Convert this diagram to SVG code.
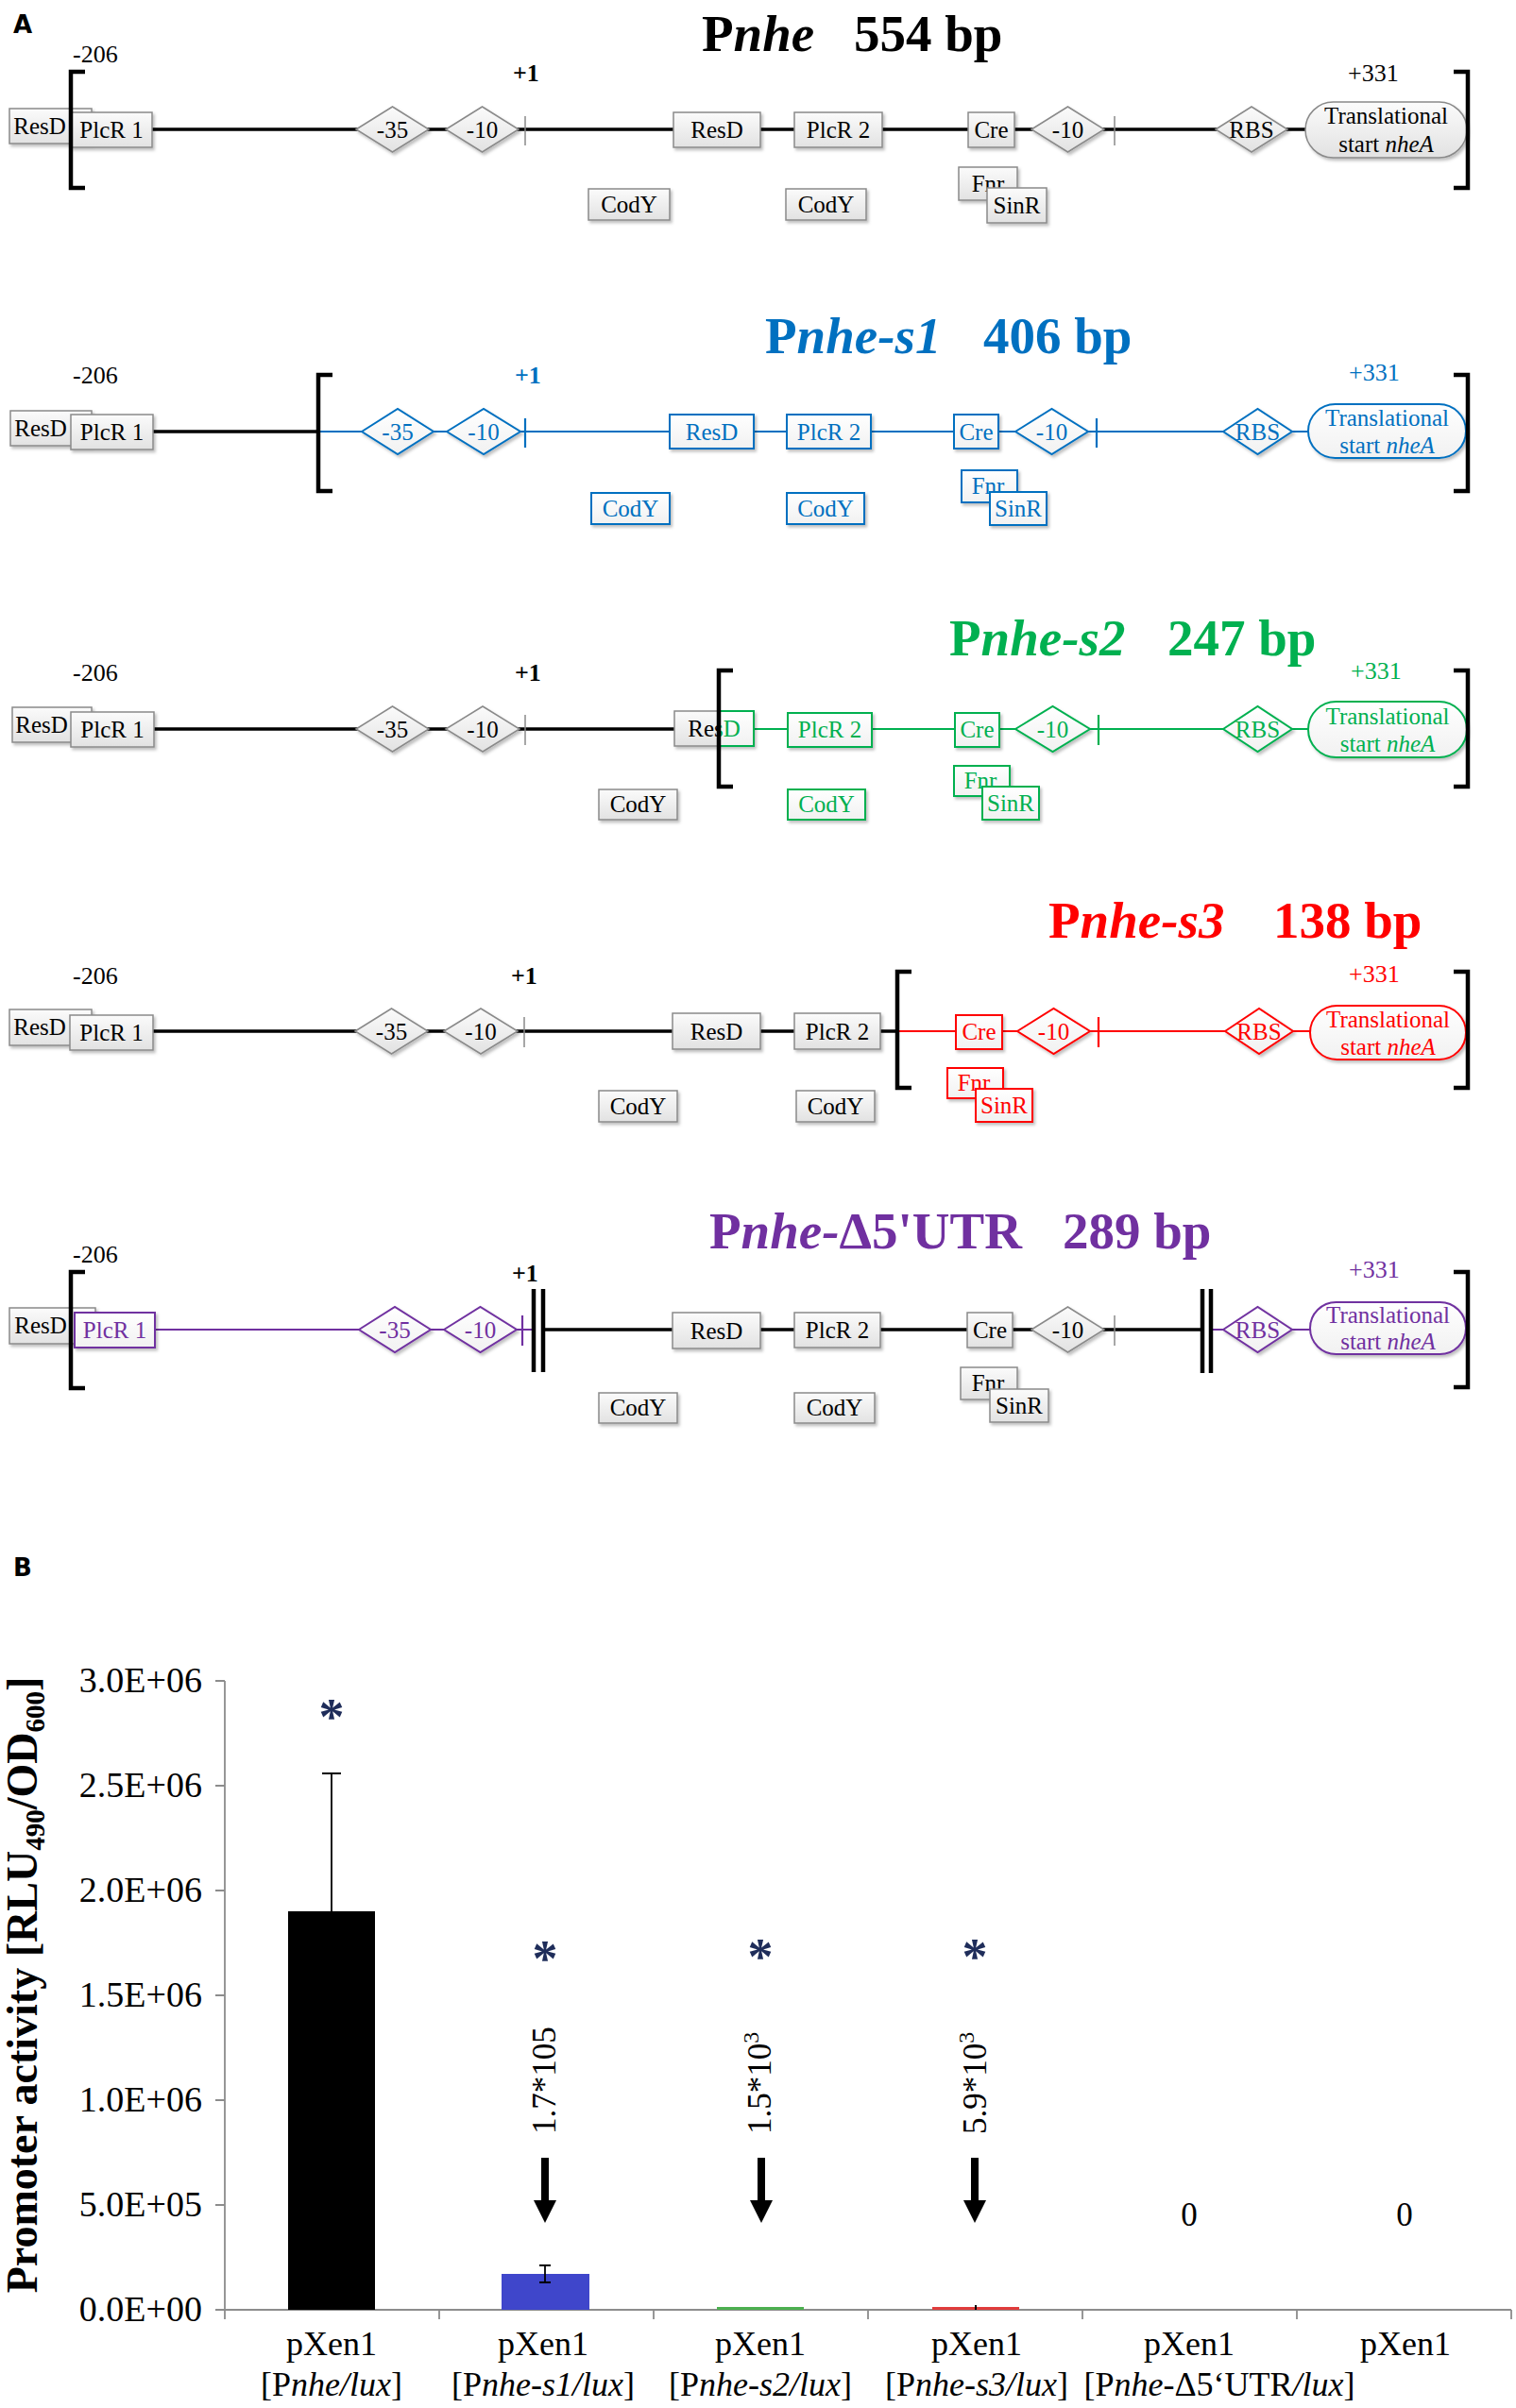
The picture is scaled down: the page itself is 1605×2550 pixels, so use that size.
<svg xmlns="http://www.w3.org/2000/svg" width="1605" height="2550" viewBox="0 0 1605 2550">
<defs>
<linearGradient id="gg" x1="0" y1="0" x2="0" y2="1"><stop offset="0" stop-color="#FBFBFB"/><stop offset="1" stop-color="#E2E2E2"/></linearGradient>
<linearGradient id="wg" x1="0" y1="0" x2="0" y2="1"><stop offset="0" stop-color="#FFFFFF"/><stop offset="1" stop-color="#F1F1F1"/></linearGradient>
<filter id="sh" x="-10%" y="-10%" width="130%" height="150%"><feDropShadow dx="2" dy="2.5" stdDeviation="1.5" flood-color="#000" flood-opacity="0.25"/></filter>
<clipPath id="clipG"><rect x="761" y="740" width="60" height="60"/></clipPath>
</defs>
<style>
.tx{font-family:"Liberation Serif","Times New Roman",serif;font-size:25px;text-anchor:middle;fill:#000}
.pos{font-family:"Liberation Serif","Times New Roman",serif;font-size:26px;fill:#000}
.bold{font-weight:bold}
.ttl{font-family:"Liberation Serif","Times New Roman",serif;font-size:55px;font-weight:bold}
.it{font-style:italic}
.gb{fill:url(#gg);stroke:#8A8A8A;stroke-width:1.5;filter:url(#sh)}
.cb{fill:url(#wg);stroke-width:2;filter:url(#sh)}
.tk{stroke:#8A8A8A;stroke-width:1.5}
.brk{fill:none;stroke:#000;stroke-width:4.5}
.dbar{stroke:#000;stroke-width:4.5}
.lk{stroke:#000;stroke-width:3.5}
.lc{stroke-width:2.2}
.sB{stroke:#0070C0}.fB{fill:#0070C0}
.sG{stroke:#00B050}.fG{fill:#00B050}
.sR{stroke:#FF0000}.fR{fill:#FF0000}
.sP{stroke:#7030A0}.fP{fill:#7030A0}
.lbl{font-family:"DejaVu Sans","Liberation Sans",sans-serif;font-size:26px;font-weight:bold;fill:#000}
.ax{stroke:#8C8C8C;stroke-width:1.8;fill:none}
.yl{font-family:"Liberation Serif","Times New Roman",serif;font-size:38px;text-anchor:end;fill:#000}
.xl{font-family:"Liberation Serif","Times New Roman",serif;font-size:36px;text-anchor:middle;fill:#000}
.ast{font-family:"Liberation Serif","Times New Roman",serif;font-size:54px;font-weight:bold;text-anchor:middle;fill:#1F2D5A}
.val{font-family:"Liberation Serif","Times New Roman",serif;font-size:35px;fill:#000}
</style>
<rect width="1605" height="2550" fill="#FFFFFF"/>

<text class="lbl" x="14" y="35">A</text>

<g id="connectors">
<line class="lk" x1="161" y1="137" x2="1382" y2="137"/>
<line class="lk" x1="162" y1="457" x2="337" y2="457"/>
<line class="lc sB" x1="337" y1="457" x2="1385" y2="457"/>
<line class="lk" x1="163" y1="772" x2="761" y2="772"/>
<line class="lc sG" x1="761" y1="772" x2="1385" y2="772"/>
<line class="lk" x1="162" y1="1092" x2="950" y2="1092"/>
<line class="lc sR" x1="950" y1="1092" x2="1387" y2="1092"/>
<line class="lc sP" x1="164" y1="1408" x2="565" y2="1408"/>
<line class="lk" x1="575" y1="1408" x2="1273" y2="1408"/>
<line class="lc sP" x1="1282" y1="1408" x2="1387" y2="1408"/>
</g>

<!-- Row 1 -->
<g id="row1">
<text class="ttl" x="743" y="54">P<tspan class="it">nhe</tspan></text>
<text class="ttl" x="904" y="54">554 bp</text>
<text class="pos" x="77" y="66">-206</text>
<text class="pos bold" x="543" y="86">+1</text>
<text class="pos" x="1427" y="86">+331</text>
<g id="r1-resd1"><rect class="gb" x="10" y="115" width="87" height="37"/><text class="tx" x="42" y="142">ResD</text></g>
<g id="r1-plcr1"><rect class="gb" x="75" y="119" width="86" height="37"/><text class="tx" x="118" y="146">PlcR 1</text></g>
<g id="r1-m35"><polygon class="gb" points="377,137 415.5,113 454,137 415.5,161"/><text class="tx" x="415.5" y="146">-35</text></g>
<g id="r1-m10a"><polygon class="gb" points="472,137 510.5,113 549,137 510.5,161"/><text class="tx" x="510.5" y="146">-10</text></g>
<line class="tk" x1="556" y1="123" x2="556" y2="154"/>
<g id="r1-resd2"><rect class="gb" x="713" y="119" width="92" height="37"/><text class="tx" x="759" y="146">ResD</text></g>
<g id="r1-plcr2"><rect class="gb" x="841" y="119" width="93" height="37"/><text class="tx" x="887.5" y="146">PlcR 2</text></g>
<g id="r1-cre"><rect class="gb" x="1025" y="119" width="49" height="37"/><text class="tx" x="1049.5" y="146">Cre</text></g>
<g id="r1-m10b"><polygon class="gb" points="1092,137 1130.5,113 1169,137 1130.5,161"/><text class="tx" x="1130.5" y="146">-10</text></g>
<line class="tk" x1="1180" y1="123" x2="1180" y2="154"/>
<g id="r1-rbs"><polygon class="gb" points="1287,137 1325,113 1363,137 1325,161"/><text class="tx" x="1325" y="146">RBS</text></g>
<g id="r1-tl"><rect class="gb" x="1382" y="108" width="171" height="59" rx="29.5"/><text class="tx" x="1467.5" y="131">Translational</text><text class="tx" x="1467.5" y="161">start <tspan class="it">nheA</tspan></text></g>
<g id="r1-cody1"><rect class="gb" x="623" y="200" width="86" height="33"/><text class="tx" x="666" y="225">CodY</text></g>
<g id="r1-cody2"><rect class="gb" x="832" y="200" width="85" height="33"/><text class="tx" x="874.5" y="225">CodY</text></g>
<g id="r1-fnr"><rect class="gb" x="1015" y="177" width="62" height="35"/><text class="tx" x="1046" y="203">Fnr</text></g>
<g id="r1-sinr"><rect class="gb" x="1045" y="199" width="63" height="37"/><text class="tx" x="1076.5" y="226">SinR</text></g>
<path class="brk" d="M90,76 H75 V199 H90"/>
<path class="brk" d="M1539,76 H1554 V199 H1539"/>
</g>

<!-- Row 2 -->
<g id="row2">
<text class="ttl fB" x="810" y="374">P<tspan class="it">nhe-s1</tspan></text>
<text class="ttl fB" x="1041" y="374">406 bp</text>
<text class="pos" x="77" y="406">-206</text>
<text class="pos bold fB" x="545" y="406">+1</text>
<text class="pos fB" x="1428" y="403">+331</text>
<g id="r2-resd1"><rect class="gb" x="11" y="435" width="86" height="37"/><text class="tx" x="43" y="462">ResD</text></g>
<g id="r2-plcr1"><rect class="gb" x="75" y="439" width="87" height="37"/><text class="tx" x="118.5" y="466">PlcR 1</text></g>
<g id="r2-m35"><polygon class="cb sB" points="383,457 421,433 459,457 421,481"/><text class="tx fB" x="421" y="466">-35</text></g>
<g id="r2-m10a"><polygon class="cb sB" points="473,457 512,433 551,457 512,481"/><text class="tx fB" x="512" y="466">-10</text></g>
<line class="lc sB" x1="556" y1="443" x2="556" y2="474"/>
<g id="r2-resd2"><rect class="cb sB" x="709" y="439" width="89" height="36"/><text class="tx fB" x="753.5" y="466">ResD</text></g>
<g id="r2-plcr2"><rect class="cb sB" x="833" y="439" width="89" height="36"/><text class="tx fB" x="877.5" y="466">PlcR 2</text></g>
<g id="r2-cre"><rect class="cb sB" x="1010" y="439" width="47" height="36"/><text class="tx fB" x="1033.5" y="466">Cre</text></g>
<g id="r2-m10b"><polygon class="cb sB" points="1075,457 1113.5,433 1152,457 1113.5,481"/><text class="tx fB" x="1113.5" y="466">-10</text></g>
<line class="lc sB" x1="1161" y1="443" x2="1161" y2="474"/>
<g id="r2-rbs"><polygon class="cb sB" points="1295,457 1331.5,433 1368,457 1331.5,481"/><text class="tx fB" x="1331.5" y="466">RBS</text></g>
<g id="r2-tl"><rect class="cb sB" x="1385" y="428" width="167" height="57" rx="28.5"/><text class="tx fB" x="1468.5" y="451">Translational</text><text class="tx fB" x="1468.5" y="480">start <tspan class="it">nheA</tspan></text></g>
<g id="r2-cody1"><rect class="cb sB" x="626" y="522" width="83" height="33"/><text class="tx fB" x="667.5" y="547">CodY</text></g>
<g id="r2-cody2"><rect class="cb sB" x="833" y="522" width="82" height="33"/><text class="tx fB" x="874" y="547">CodY</text></g>
<g id="r2-fnr"><rect class="cb sB" x="1018" y="498" width="59" height="34"/><text class="tx fB" x="1046" y="523">Fnr</text></g>
<g id="r2-sinr"><rect class="cb sB" x="1048" y="521" width="60" height="35"/><text class="tx fB" x="1078" y="547">SinR</text></g>
<path class="brk" d="M352,397 H337 V520 H352"/>
<path class="brk" d="M1539,397 H1554 V520 H1539"/>
</g>

<!-- Row 3 -->
<g id="row3">
<text class="ttl fG" x="1005" y="694">P<tspan class="it">nhe-s2</tspan></text>
<text class="ttl fG" x="1236" y="694">247 bp</text>
<text class="pos" x="77" y="721">-206</text>
<text class="pos bold" x="545" y="721">+1</text>
<text class="pos fG" x="1430" y="719">+331</text>
<g id="r3-resd1"><rect class="gb" x="13" y="749" width="84" height="37"/><text class="tx" x="44" y="776">ResD</text></g>
<g id="r3-plcr1"><rect class="gb" x="75" y="754" width="88" height="37"/><text class="tx" x="119" y="781">PlcR 1</text></g>
<g id="r3-m35"><polygon class="gb" points="377,772 415.5,748 454,772 415.5,796"/><text class="tx" x="415.5" y="781">-35</text></g>
<g id="r3-m10a"><polygon class="gb" points="472,772 511,748 550,772 511,796"/><text class="tx" x="511" y="781">-10</text></g>
<line class="tk" x1="556" y1="757" x2="556" y2="789"/>
<g id="r3-resd2"><rect class="gb" x="714" y="753" width="84" height="37"/><text class="tx" x="756" y="780">ResD</text>
<rect class="cb sG" x="761" y="753" width="37" height="37" style="filter:none"/><text class="tx fG" x="756" y="780" clip-path="url(#clipG)">ResD</text></g>
<g id="r3-plcr2"><rect class="cb sG" x="834" y="755" width="89" height="36"/><text class="tx fG" x="878.5" y="781">PlcR 2</text></g>
<g id="r3-cre"><rect class="cb sG" x="1011" y="755" width="47" height="36"/><text class="tx fG" x="1034.5" y="781">Cre</text></g>
<g id="r3-m10b"><polygon class="cb sG" points="1075,772 1114.5,748 1154,772 1114.5,796"/><text class="tx fG" x="1114.5" y="781">-10</text></g>
<line class="lc sG" x1="1163" y1="757" x2="1163" y2="789"/>
<g id="r3-rbs"><polygon class="cb sG" points="1295,772 1331.5,748 1368,772 1331.5,796"/><text class="tx fG" x="1331.5" y="781">RBS</text></g>
<g id="r3-tl"><rect class="cb sG" x="1385" y="743" width="168" height="59" rx="29.5"/><text class="tx fG" x="1469" y="767">Translational</text><text class="tx fG" x="1469" y="796">start <tspan class="it">nheA</tspan></text></g>
<g id="r3-cody1"><rect class="gb" x="634" y="836" width="83" height="32"/><text class="tx" x="675.5" y="860">CodY</text></g>
<g id="r3-cody2"><rect class="cb sG" x="834" y="836" width="82" height="32"/><text class="tx fG" x="875" y="860">CodY</text></g>
<g id="r3-fnr"><rect class="cb sG" x="1010" y="811" width="59" height="32"/><text class="tx fG" x="1038" y="835">Fnr</text></g>
<g id="r3-sinr"><rect class="cb sG" x="1040" y="833" width="60" height="35"/><text class="tx fG" x="1070" y="859">SinR</text></g>
<path class="brk" d="M776,710 H761 V833 H776"/>
<path class="brk" d="M1539,710 H1554 V833 H1539"/>
</g>

<!-- Row 4 -->
<g id="row4">
<text class="ttl fR" x="1110" y="993">P<tspan class="it">nhe-s3</tspan></text>
<text class="ttl fR" x="1348" y="993">138 bp</text>
<text class="pos" x="77" y="1042">-206</text>
<text class="pos bold" x="541" y="1042">+1</text>
<text class="pos fR" x="1428" y="1040">+331</text>
<g id="r4-resd1"><rect class="gb" x="10" y="1069" width="87" height="38"/><text class="tx" x="42" y="1096">ResD</text></g>
<g id="r4-plcr1"><rect class="gb" x="74" y="1075" width="88" height="37"/><text class="tx" x="118" y="1102">PlcR 1</text></g>
<g id="r4-m35"><polygon class="gb" points="376,1092 414.5,1068 453,1092 414.5,1116"/><text class="tx" x="414.5" y="1101">-35</text></g>
<g id="r4-m10a"><polygon class="gb" points="470,1092 509,1068 548,1092 509,1116"/><text class="tx" x="509" y="1101">-10</text></g>
<line class="tk" x1="555" y1="1077" x2="555" y2="1109"/>
<g id="r4-resd2"><rect class="gb" x="712" y="1073" width="93" height="38"/><text class="tx" x="758.5" y="1101">ResD</text></g>
<g id="r4-plcr2"><rect class="gb" x="841" y="1073" width="91" height="38"/><text class="tx" x="886.5" y="1101">PlcR 2</text></g>
<g id="r4-cre"><rect class="cb sR" x="1012" y="1075" width="49" height="36"/><text class="tx fR" x="1036.5" y="1101">Cre</text></g>
<g id="r4-m10b"><polygon class="cb sR" points="1077,1092 1115.5,1068 1154,1092 1115.5,1116"/><text class="tx fR" x="1115.5" y="1101">-10</text></g>
<line class="lc sR" x1="1163" y1="1077" x2="1163" y2="1109"/>
<g id="r4-rbs"><polygon class="cb sR" points="1297,1092 1333,1068 1369,1092 1333,1116"/><text class="tx fR" x="1333" y="1101">RBS</text></g>
<g id="r4-tl"><rect class="cb sR" x="1387" y="1065" width="165" height="57" rx="28.5"/><text class="tx fR" x="1469.5" y="1088">Translational</text><text class="tx fR" x="1469.5" y="1117">start <tspan class="it">nheA</tspan></text></g>
<g id="r4-cody1"><rect class="gb" x="634" y="1155" width="83" height="33"/><text class="tx" x="675.5" y="1180">CodY</text></g>
<g id="r4-cody2"><rect class="gb" x="843" y="1155" width="83" height="33"/><text class="tx" x="884.5" y="1180">CodY</text></g>
<g id="r4-fnr"><rect class="cb sR" x="1003" y="1131" width="59" height="32"/><text class="tx fR" x="1031" y="1155">Fnr</text></g>
<g id="r4-sinr"><rect class="cb sR" x="1033" y="1153" width="60" height="35"/><text class="tx fR" x="1063" y="1179">SinR</text></g>
<path class="brk" d="M965,1029 H950 V1152 H965"/>
<path class="brk" d="M1539,1029 H1554 V1152 H1539"/>
</g>

<!-- Row 5 -->
<g id="row5">
<text class="ttl fP" x="751" y="1322">P<tspan class="it">nhe-</tspan>Δ5'UTR</text>
<text class="ttl fP" x="1125" y="1322">289 bp</text>
<text class="pos" x="77" y="1337">-206</text>
<text class="pos bold" x="542" y="1357">+1</text>
<text class="pos fP" x="1428" y="1353">+331</text>
<g id="r5-resd1"><rect class="gb" x="10" y="1385" width="91" height="38"/><text class="tx" x="43" y="1412">ResD</text></g>
<g id="r5-plcr1"><rect class="cb sP" x="79" y="1390" width="85" height="37"/><text class="tx fP" x="121.5" y="1417">PlcR 1</text></g>
<g id="r5-m35"><polygon class="cb sP" points="380,1408 418,1384 456,1408 418,1432"/><text class="tx fP" x="418" y="1417">-35</text></g>
<g id="r5-m10a"><polygon class="cb sP" points="470,1408 508.5,1384 547,1408 508.5,1432"/><text class="tx fP" x="508.5" y="1417">-10</text></g>
<line class="lc sP" x1="553" y1="1393" x2="553" y2="1425"/>
<line class="dbar" x1="565" y1="1365" x2="565" y2="1453"/>
<line class="dbar" x1="575" y1="1365" x2="575" y2="1453"/>
<g id="r5-resd2"><rect class="gb" x="712" y="1390" width="93" height="38"/><text class="tx" x="758.5" y="1418">ResD</text></g>
<g id="r5-plcr2"><rect class="gb" x="841" y="1390" width="91" height="37"/><text class="tx" x="886.5" y="1417">PlcR 2</text></g>
<g id="r5-cre"><rect class="gb" x="1024" y="1390" width="48" height="37"/><text class="tx" x="1048" y="1417">Cre</text></g>
<g id="r5-m10b"><polygon class="gb" points="1092,1408 1130.5,1384 1169,1408 1130.5,1432"/><text class="tx" x="1130.5" y="1417">-10</text></g>
<line class="tk" x1="1180" y1="1393" x2="1180" y2="1425"/>
<line class="dbar" x1="1273" y1="1365" x2="1273" y2="1454"/>
<line class="dbar" x1="1282" y1="1365" x2="1282" y2="1454"/>
<g id="r5-rbs"><polygon class="cb sP" points="1295,1408 1331.5,1384 1368,1408 1331.5,1432"/><text class="tx fP" x="1331.5" y="1417">RBS</text></g>
<g id="r5-tl"><rect class="cb sP" x="1387" y="1379" width="165" height="55" rx="27.5"/><text class="tx fP" x="1469.5" y="1401">Translational</text><text class="tx fP" x="1469.5" y="1429">start <tspan class="it">nheA</tspan></text></g>
<g id="r5-cody1"><rect class="gb" x="634" y="1475" width="83" height="32"/><text class="tx" x="675.5" y="1499">CodY</text></g>
<g id="r5-cody2"><rect class="gb" x="841" y="1475" width="85" height="32"/><text class="tx" x="883.5" y="1499">CodY</text></g>
<g id="r5-fnr"><rect class="gb" x="1017" y="1448" width="60" height="34"/><text class="tx" x="1046" y="1473">Fnr</text></g>
<g id="r5-sinr"><rect class="gb" x="1048" y="1471" width="62" height="35"/><text class="tx" x="1079" y="1497">SinR</text></g>
<path class="brk" d="M90,1347 H75 V1470 H90"/>
<path class="brk" d="M1539,1347 H1554 V1469 H1539"/>
</g>

<!-- Panel B -->
<text class="lbl" x="14" y="1669">B</text>
<g id="chart">
<g id="axes">
<path class="ax" d="M238,1780 V2446 H1600"/>
<path class="ax" d="M228,1780 H238 M228,1891 H238 M228,2002 H238 M228,2113 H238 M228,2224 H238 M228,2335 H238 M228,2446 H238"/>
<path class="ax" d="M238,2446 V2456 M465,2446 V2456 M692,2446 V2456 M919,2446 V2456 M1146,2446 V2456 M1373,2446 V2456 M1600,2446 V2456"/>
<text class="yl" x="214" y="1792">3.0E+06</text>
<text class="yl" x="214" y="1903">2.5E+06</text>
<text class="yl" x="214" y="2014">2.0E+06</text>
<text class="yl" x="214" y="2125">1.5E+06</text>
<text class="yl" x="214" y="2236">1.0E+06</text>
<text class="yl" x="214" y="2347">5.0E+05</text>
<text class="yl" x="214" y="2458">0.0E+00</text>
<text transform="translate(39,2102) rotate(-90)" font-family="'Liberation Serif','Times New Roman',serif" font-size="46" font-weight="bold" text-anchor="middle" fill="#000">Promoter activity [RLU<tspan font-size="29" baseline-shift="-8">490</tspan>/OD<tspan font-size="29" baseline-shift="-8">600</tspan>]</text>
</g>
<g id="bar1">
<rect x="305" y="2024" width="92" height="422" fill="#000"/>
<path d="M351,2024 V1878 M341,1878 H361" stroke="#000" stroke-width="1.8" fill="none"/>
<text class="ast" x="351" y="1836">*</text>
<text class="xl" x="351" y="2494">pXen1</text>
<text class="xl" x="351" y="2537">[P<tspan class="it">nhe/lux</tspan>]</text>
</g>
<g id="bar2">
<rect x="531" y="2408" width="93" height="38" fill="#3F46CB"/>
<path d="M577,2399 V2417 M571,2399 H583 M571,2417 H583" stroke="#000" stroke-width="1.8" fill="none"/>
<text class="ast" x="577" y="2092">*</text>
<text class="val" transform="translate(588,2260) rotate(-90)">1.7*105</text>
<path d="M573,2285 H581 V2330 H589 L577,2354 L565,2330 H573 Z" fill="#000"/>
<text class="xl" x="575" y="2494">pXen1</text>
<text class="xl" x="575" y="2537">[P<tspan class="it">nhe-s1/lux</tspan>]</text>
</g>
<g id="bar3">
<rect x="759" y="2443" width="92" height="3" fill="#4CB050"/>
<text class="ast" x="805" y="2090">*</text>
<text class="val" transform="translate(816,2260) rotate(-90)">1.5*10<tspan font-size="24" baseline-shift="super">3</tspan></text>
<path d="M802,2285 H810 V2330 H818 L806,2354 L794,2330 H802 Z" fill="#000"/>
<text class="xl" x="805" y="2494">pXen1</text>
<text class="xl" x="805" y="2537">[P<tspan class="it">nhe-s2/lux</tspan>]</text>
</g>
<g id="bar4">
<rect x="987" y="2443" width="92" height="3" fill="#E03C3C"/>
<line x1="1033" y1="2441" x2="1033" y2="2446" stroke="#000" stroke-width="2"/>
<text class="ast" x="1032" y="2090">*</text>
<text class="val" transform="translate(1044,2260) rotate(-90)">5.9*10<tspan font-size="24" baseline-shift="super">3</tspan></text>
<path d="M1028,2285 H1036 V2330 H1044 L1032,2354 L1020,2330 H1028 Z" fill="#000"/>
<text class="xl" x="1034" y="2494">pXen1</text>
<text class="xl" x="1034" y="2537">[P<tspan class="it">nhe-s3/lux</tspan>]</text>
</g>
<g id="bar5">
<text class="val" x="1259" y="2357" text-anchor="middle">0</text>
<text class="xl" x="1259" y="2494">pXen1</text>
<text class="xl" x="1291" y="2537">[P<tspan class="it">nhe-</tspan>Δ5‘UTR<tspan class="it">/lux</tspan>]</text>
</g>
<g id="bar6">
<text class="val" x="1487" y="2357" text-anchor="middle">0</text>
<text class="xl" x="1488" y="2494">pXen1</text>
</g>
</g>
</svg>
